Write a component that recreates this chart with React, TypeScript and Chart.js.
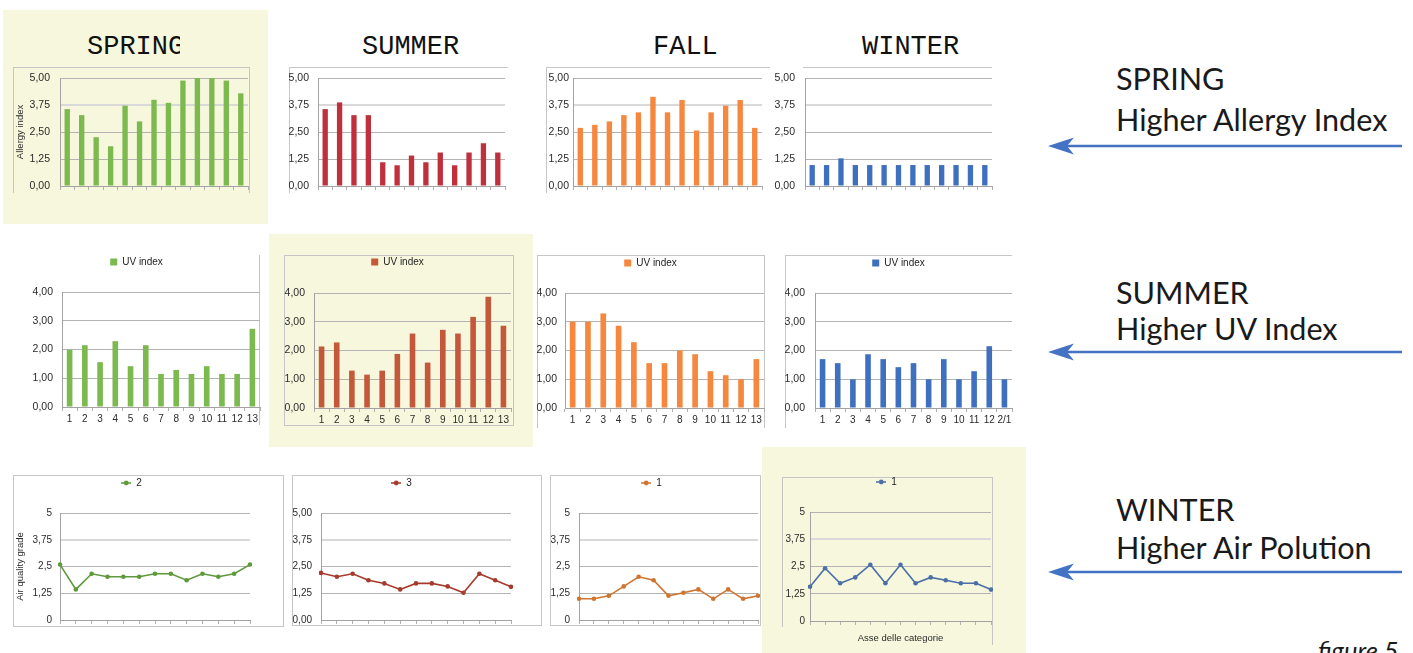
import React, { useEffect, useRef } from 'react';
import { Chart, registerables } from 'chart.js';

Chart.register(...registerables);

// ---------- DATA ----------
const CATEGORIES = ['1', '2', '3', '4', '5', '6', '7', '8', '9', '10', '11', '12', '13'];
const WINTER_UV_CATEGORIES = ['1', '2', '3', '4', '5', '6', '7', '8', '9', '10', '11', '12', '2/1'];

const ALLERGY_TICKS = ['0,00', '1,25', '2,50', '3,75', '5,00'];
const UV_TICKS = ['0,00', '1,00', '2,00', '3,00', '4,00'];
const AIR_TICKS_SHORT = ['0', '1,25', '2,5', '3,75', '5'];
const AIR_TICKS_LONG = ['0,00', '1,25', '2,50', '3,75', '5,00'];

const SPRING_ALLERGY = [3.56, 3.28, 2.26, 1.84, 3.72, 2.99, 3.99, 3.85, 4.88, 5.0, 5.0, 4.88, 4.29];
const SUMMER_ALLERGY = [3.56, 3.87, 3.28, 3.28, 1.1, 0.96, 1.41, 1.1, 1.55, 0.96, 1.55, 1.98, 1.55];
const FALL_ALLERGY = [2.69, 2.83, 2.99, 3.28, 3.41, 4.13, 3.41, 3.98, 2.57, 3.41, 3.72, 3.98, 2.69];
const WINTER_ALLERGY = [0.97, 0.97, 1.28, 0.97, 0.97, 0.97, 0.97, 0.97, 0.97, 0.97, 0.97, 0.97, 0.97];

const SPRING_UV = [1.99, 2.15, 1.56, 2.29, 1.42, 2.15, 1.15, 1.29, 1.15, 1.42, 1.15, 1.15, 2.72];
const SUMMER_UV = [2.14, 2.28, 1.3, 1.16, 1.3, 1.88, 2.59, 1.58, 2.72, 2.59, 3.17, 3.87, 2.86];
const FALL_UV = [3.0, 3.0, 3.29, 2.86, 2.29, 1.56, 1.56, 2.0, 1.87, 1.28, 1.14, 1.0, 1.7];
const WINTER_UV = [1.7, 1.56, 1.0, 1.87, 1.7, 1.42, 1.56, 1.0, 1.7, 1.0, 1.28, 2.15, 1.0];

const SPRING_AIR = [2.59, 1.43, 2.16, 2.02, 2.02, 2.02, 2.16, 2.16, 1.86, 2.16, 2.02, 2.16, 2.59];
const SUMMER_AIR = [2.2, 2.02, 2.16, 1.86, 1.71, 1.43, 1.71, 1.71, 1.57, 1.27, 2.16, 1.86, 1.55];
const FALL_AIR = [0.99, 0.99, 1.13, 1.57, 2.02, 1.86, 1.13, 1.27, 1.43, 0.99, 1.43, 0.99, 1.13];
const WINTER_AIR = [1.57, 2.42, 1.73, 2.0, 2.58, 1.73, 2.58, 1.73, 2.0, 1.87, 1.73, 1.73, 1.44];

const SEASON_TITLES = ['SPRING', 'SUMMER', 'FALL', 'WINTER'];
const SIDE_NOTES = [
  ['SPRING', 'Higher Allergy Index'],
  ['SUMMER', 'Higher UV Index'],
  ['WINTER', 'Higher Air Polution'],
];

// ---------- STYLE ----------
const FONT = "'Liberation Sans', Arial, sans-serif";
const GREEN = '#7cb94e';
const RED = '#c0303c';
const ORANGE = '#f5873f';
const BLUE = '#3f70bf';
const BRICK = '#c4583b';
const LINE_GREEN = '#5e9a3c';
const LINE_RED = '#a63a2c';
const LINE_ORANGE = '#cf7532';
const LINE_BLUE = '#4b6fa6';
const PANEL = '#f6f7dc';
const FRAME = '#c6c6c6';

type Spec = {
  id: string;
  kind: 'bar' | 'line';
  left: number; top: number; right: number; bottom: number;
  axisX: number; plotTop: number; plotRight: number; plotBottom: number;
  labels: string[]; values: number[]; color: string;
  yMax: number; yStep: number; yTicks: string[]; yLabelPad: number; yFont: number;
  showXLabels?: boolean;
  legend?: string; legendY?: number;
  yTitle?: string; xTitle?: string;
  heavy?: number | null;
};

const SPECS: Spec[] = [
  { id: 'sa', kind: 'bar', left: 13, top: 67, right: 249, bottom: 193, axisX: 60, plotTop: 78, plotRight: 248, plotBottom: 186,
    labels: CATEGORIES, values: SPRING_ALLERGY, color: GREEN, yMax: 5, yStep: 1.25, yTicks: ALLERGY_TICKS, yLabelPad: 10, yFont: 10.5,
    yTitle: 'Allergy index', heavy: 3.75 },
  { id: 'ua', kind: 'bar', left: 285, top: 67, right: 508, bottom: 193, axisX: 318, plotTop: 78, plotRight: 505, plotBottom: 186,
    labels: CATEGORIES, values: SUMMER_ALLERGY, color: RED, yMax: 5, yStep: 1.25, yTicks: ALLERGY_TICKS, yLabelPad: 9, yFont: 10.5, heavy: 3.75 },
  { id: 'fa', kind: 'bar', left: 540, top: 67, right: 764, bottom: 193, axisX: 573, plotTop: 78, plotRight: 762, plotBottom: 186,
    labels: CATEGORIES, values: FALL_ALLERGY, color: ORANGE, yMax: 5, yStep: 1.25, yTicks: ALLERGY_TICKS, yLabelPad: 4, yFont: 10.5, heavy: 3.75 },
  { id: 'wa', kind: 'bar', left: 772, top: 67, right: 994, bottom: 193, axisX: 805, plotTop: 78, plotRight: 992, plotBottom: 186,
    labels: CATEGORIES, values: WINTER_ALLERGY, color: BLUE, yMax: 5, yStep: 1.25, yTicks: ALLERGY_TICKS, yLabelPad: 10, yFont: 10.5, heavy: 3.75 },

  { id: 'su', kind: 'bar', left: 13, top: 248, right: 284, bottom: 428, axisX: 62, plotTop: 292, plotRight: 260, plotBottom: 407,
    labels: CATEGORIES, values: SPRING_UV, color: GREEN, yMax: 4, yStep: 1, yTicks: UV_TICKS, yLabelPad: 9, yFont: 10.5,
    showXLabels: true, legend: 'UV index', legendY: 262 },
  { id: 'uu', kind: 'bar', left: 284, top: 248, right: 513, bottom: 428, axisX: 314, plotTop: 293, plotRight: 511, plotBottom: 408,
    labels: CATEGORIES, values: SUMMER_UV, color: BRICK, yMax: 4, yStep: 1, yTicks: UV_TICKS, yLabelPad: 9, yFont: 10.5,
    showXLabels: true, legend: 'UV index', legendY: 262 },
  { id: 'fu', kind: 'bar', left: 537, top: 248, right: 766, bottom: 428, axisX: 565, plotTop: 293, plotRight: 764, plotBottom: 408,
    labels: CATEGORIES, values: FALL_UV, color: ORANGE, yMax: 4, yStep: 1, yTicks: UV_TICKS, yLabelPad: 8, yFont: 10.5,
    showXLabels: true, legend: 'UV index', legendY: 263 },
  { id: 'wu', kind: 'bar', left: 785, top: 248, right: 1014, bottom: 428, axisX: 815, plotTop: 293, plotRight: 1012, plotBottom: 408,
    labels: WINTER_UV_CATEGORIES, values: WINTER_UV, color: BLUE, yMax: 4, yStep: 1, yTicks: UV_TICKS, yLabelPad: 10, yFont: 10.5,
    showXLabels: true, legend: 'UV index', legendY: 263 },

  { id: 'sq', kind: 'line', left: 13, top: 468, right: 321, bottom: 626, axisX: 60, plotTop: 513, plotRight: 250, plotBottom: 620,
    labels: CATEGORIES, values: SPRING_AIR, color: LINE_GREEN, yMax: 5, yStep: 1.25, yTicks: AIR_TICKS_SHORT, yLabelPad: 8, yFont: 10,
    legend: '2', legendY: 483, yTitle: 'Air quality grade', heavy: 3.75 },
  { id: 'uq', kind: 'line', left: 292, top: 468, right: 559, bottom: 626, axisX: 321, plotTop: 513, plotRight: 511, plotBottom: 620,
    labels: CATEGORIES, values: SUMMER_AIR, color: LINE_RED, yMax: 5, yStep: 1.25, yTicks: AIR_TICKS_LONG, yLabelPad: 9, yFont: 10,
    legend: '3', legendY: 483, heavy: 3.75 },
  { id: 'fq', kind: 'line', left: 545, top: 468, right: 775, bottom: 626, axisX: 579, plotTop: 513, plotRight: 758, plotBottom: 620,
    labels: CATEGORIES, values: FALL_AIR, color: LINE_ORANGE, yMax: 5, yStep: 1.25, yTicks: AIR_TICKS_SHORT, yLabelPad: 9, yFont: 10,
    legend: '1', legendY: 483, heavy: 3.75 },
  { id: 'wq', kind: 'line', left: 782, top: 468, right: 1007, bottom: 653, axisX: 810, plotTop: 512, plotRight: 991, plotBottom: 621,
    labels: CATEGORIES, values: WINTER_AIR, color: LINE_BLUE, yMax: 5, yStep: 1.25, yTicks: AIR_TICKS_SHORT, yLabelPad: 5, yFont: 10,
    legend: '1', legendY: 482, xTitle: 'Asse delle categorie', heavy: 3.75 },
];

function makeLegendMarker(color: string) {
  const c = document.createElement('canvas');
  c.width = 10;
  c.height = 6;
  const g = c.getContext('2d')!;
  g.strokeStyle = color;
  g.lineWidth = 1.5;
  g.beginPath();
  g.moveTo(0, 3);
  g.lineTo(10, 3);
  g.stroke();
  g.fillStyle = color;
  g.beginPath();
  g.arc(5, 3, 2.4, 0, Math.PI * 2);
  g.fill();
  return c;
}

function buildConfig(s: Spec): any {
  const isBar = s.kind === 'bar';
  const hasLegend = !!s.legend;
  const LEG_PAD = 6;
  const LEG_FONT = 10;
  const legendTop = hasLegend ? (s.legendY as number) - LEG_PAD - LEG_FONT / 2 : 0;
  const legendH = LEG_FONT + LEG_PAD + 10;
  const padTop = hasLegend ? legendTop - s.top : s.plotTop - s.top;
  const gap = hasLegend ? s.plotTop - legendTop - legendH : 0;
  const yWidth = s.axisX - s.left;
  const padRight = s.right - s.plotRight;
  const xHeight = s.bottom - s.plotBottom;
  const textColor = '#2b2b2b';

  const dataset: any = isBar
    ? { label: s.legend || '', data: s.values, backgroundColor: s.color, borderWidth: 0, barPercentage: 0.37, categoryPercentage: 1 }
    : { label: s.legend || '', data: s.values, borderColor: s.color, backgroundColor: s.color, borderWidth: 1.6,
        pointRadius: 2.3, pointHoverRadius: 2.3, pointBorderWidth: 0, pointBackgroundColor: s.color, tension: 0, fill: false };

  return {
    type: s.kind,
    data: { labels: s.labels, datasets: [dataset] },
    options: {
      responsive: false,
      animation: false,
      maintainAspectRatio: false,
      layout: { padding: { top: padTop, right: padRight, left: 0, bottom: 0 } },
      plugins: {
        tooltip: { enabled: false },
        legend: {
          display: hasLegend,
          position: 'top',
          weight: 3000,
          labels: {
            font: { family: FONT, size: LEG_FONT },
            color: '#1e1e1e',
            boxWidth: 7,
            boxHeight: 7,
            padding: LEG_PAD,
            usePointStyle: !isBar,
            pointStyle: !isBar ? makeLegendMarker(s.color) : undefined,
            pointStyleWidth: !isBar ? 10 : undefined,
          },
        },
        title: {
          display: hasLegend && gap > 0,
          text: '',
          padding: 0,
          font: { size: Math.max(gap, 1), lineHeight: 1 },
        },
      },
      scales: {
        x: {
          type: 'category',
          offset: isBar,
          grid: { display: true, drawOnChartArea: false, drawTicks: true, tickLength: 4, color: '#b0b0b0', offset: isBar },
          border: { display: true, color: '#a2a2a2' },
          ticks: { display: !!s.showXLabels, padding: 2, autoSkip: false, maxRotation: 0,
            font: { family: FONT, size: 10 }, color: textColor },
          title: s.xTitle
            ? { display: true, text: s.xTitle, color: textColor, font: { family: FONT, size: 9.5 }, padding: { top: 0, bottom: 9 } }
            : { display: false },
          afterFit: (sc: any) => { sc.height = xHeight; sc.paddingLeft = 0; sc.paddingRight = 0; },
        },
        y: {
          min: 0,
          max: s.yMax,
          ticks: { stepSize: s.yStep, padding: s.yLabelPad, autoSkip: false,
            callback: (_v: any, i: number) => s.yTicks[i],
            font: { family: FONT, size: s.yFont }, color: textColor },
          grid: {
            drawTicks: false,
            color: (c: any) => (s.heavy != null && c.tick && Math.abs(c.tick.value - s.heavy) < 1e-6 ? '#d9d9d9' : '#b3b3b3'),
            lineWidth: (c: any) => (s.heavy != null && c.tick && Math.abs(c.tick.value - s.heavy) < 1e-6 ? 2 : 1),
          },
          border: { display: true, color: '#a2a2a2' },
          title: s.yTitle
            ? { display: true, text: s.yTitle, color: textColor, font: { family: FONT, size: 9.5 }, padding: { top: 1.5, bottom: 0 } }
            : { display: false },
          afterFit: (sc: any) => { sc.width = yWidth; sc.paddingTop = 0; sc.paddingBottom = 0; },
        },
      },
    },
  };
}

function ChartCanvas({ spec }: { spec: Spec }) {
  const ref = useRef<HTMLCanvasElement>(null);
  useEffect(() => {
    const canvas = ref.current;
    if (!canvas) return;
    const chart = new Chart(canvas, buildConfig(spec));
    return () => chart.destroy();
  }, [spec]);
  const w = spec.right - spec.left;
  const h = spec.bottom - spec.top;
  return (
    <canvas
      ref={ref}
      width={w}
      height={h}
      style={{ position: 'absolute', left: spec.left, top: spec.top, width: w, height: h, zIndex: 1 }}
    />
  );
}

function Arrow({ y }: { y: number }) {
  return (
    <g>
      <line x1={1064} y1={y} x2={1402} y2={y} stroke="#4472c4" strokeWidth={2.6} />
      <polygon points={`1048,${y} 1074,${y - 8.5} 1067,${y} 1074,${y + 8.5}`} fill="#4472c4" />
    </g>
  );
}

export default function App() {
  const titleX = [87, 362, 653, 862];
  const noteY = [[90, 131], [304, 340], [521, 559]];
  const arrowY = [146, 352, 572];
  return (
    <div style={{ position: 'absolute', left: 0, top: 0, width: 1413, height: 653, overflow: 'hidden', background: '#ffffff' }}>
      <svg width={1413} height={653} style={{ position: 'absolute', left: 0, top: 0, zIndex: 0 }}>
        <defs>
          <clipPath id="springClip">
            <rect x={0} y={0} width={180} height={80} />
          </clipPath>
        </defs>
        {/* highlight panels */}
        <rect x={3} y={10} width={265} height={214} fill={PANEL} />
        <rect x={269} y={234} width={264} height={213} fill={PANEL} />
        <rect x={762} y={447} width={264} height={206} fill={PANEL} />

        {/* chart frames */}
        <g stroke={FRAME} strokeWidth={1} fill="none" shapeRendering="crispEdges">
          <polyline points="13,193 13,67 249,67 249,193" />
          <polyline points="289,193 289,67 508,67" />
          <polyline points="546,193 546,67 770,67" />
          <line x1={803} y1={67} x2={992} y2={67} />

          <line x1={259} y1={255} x2={259} y2={425} />
          <rect x={284} y={255} width={229} height={170} />
          <polyline points="537,428 537,255 764,255 764,428" />
          <polyline points="785,428 785,255 1012,255" />

          <rect x={13} y={475} width={270} height={151} />
          <rect x={292} y={475} width={249} height={150} />
          <rect x={550} y={475} width={210} height={150} />
          <polyline points="782,627 782,477 992,477 992,645" />
        </g>

        {/* season titles */}
        <g fontFamily="'Liberation Mono', 'DejaVu Sans Mono', monospace" fontSize={27} fill="#111">
          <text x={titleX[0]} y={54} clipPath="url(#springClip)">{SEASON_TITLES[0]}</text>
          <text x={titleX[1]} y={54}>{SEASON_TITLES[1]}</text>
          <text x={titleX[2]} y={54}>{SEASON_TITLES[2]}</text>
          <text x={titleX[3]} y={54}>{SEASON_TITLES[3]}</text>
        </g>

        {/* side notes */}
        <g fontFamily="Lato, 'Open Sans', sans-serif" fontSize={30.6} fill="#1a1a1a">
          {SIDE_NOTES.map((pair, i) => (
            <g key={i}>
              <text x={1116} y={noteY[i][0]}>{pair[0]}</text>
              <text x={1116} y={noteY[i][1]}>{pair[1]}</text>
            </g>
          ))}
        </g>
        {arrowY.map((y) => <Arrow key={y} y={y} />)}
        <text x={1318} y={660} fontFamily="Lato, 'Open Sans', sans-serif" fontStyle="italic" fontSize={25.5} fill="#1a1a1a">figure 5</text>
      </svg>
      {SPECS.map((s) => <ChartCanvas key={s.id} spec={s} />)}
    </div>
  );
}
